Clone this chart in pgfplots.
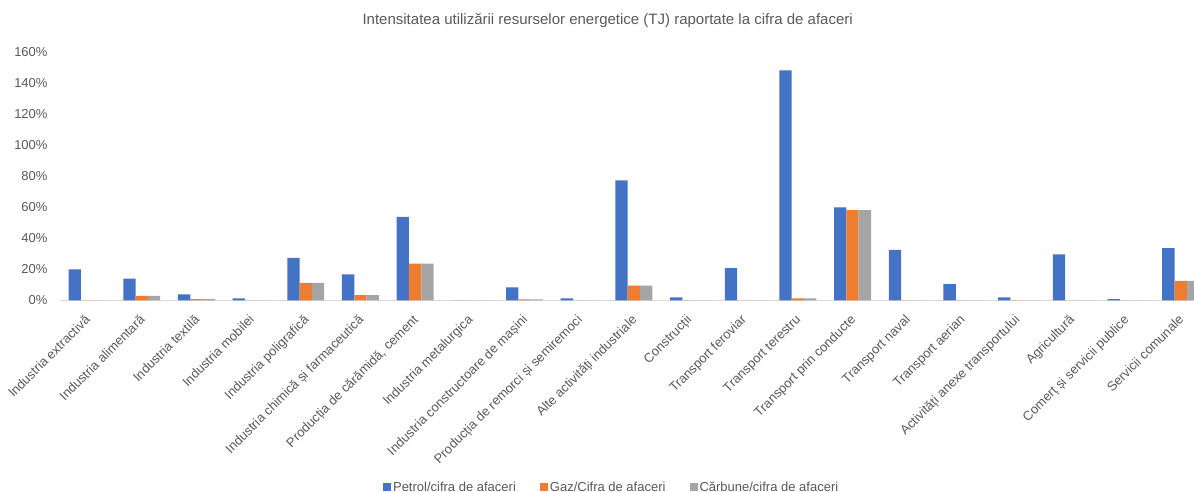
\documentclass[border=0pt]{standalone}
\usepackage{pgfplots}
\pgfplotsset{compat=1.18}
\usepackage{fontspec}
\setmainfont{Liberation Sans}
\definecolor{cblue}{HTML}{4472C4}
\definecolor{corange}{HTML}{ED7D31}
\definecolor{cgrey}{HTML}{A5A5A5}
\definecolor{ctext}{HTML}{595959}
\definecolor{cline}{HTML}{D9D9D9}
\begin{document}
\begin{tikzpicture}
\useasboundingbox (-59.7pt,-191.7pt) rectangle (1134.3pt,300.3pt);
\begin{axis}[
  at={(0,0)}, anchor=south west,
  scale only axis, width=1148.3pt, height=248pt,
  ybar=0pt, bar width=12.3pt,
  xmin=-0.5, xmax=20.5, ymin=0, ymax=160,
  axis x line*=bottom, axis y line=none,
  x axis line style={cline, line width=0.8pt},
  xtick={0,...,20}, major tick length=0pt,
  xticklabels={Industria extractivă, Industria alimentară, Industria textilă, Industria mobilei, Industria poligrafică, Industria chimică și farmaceutică, {Producția de cărămidă, cement}, Industria metalurgica, Industria constructoare de mașini, Producția de remorci și semiremoci, Alte activități industriale, Construcții, Transport feroviar, Transport terestru, Transport prin conducte, Transport naval, Transport aerian, Activități anexe transportului, Agricultură, Comerț și servicii publice, Servicii comunale},
  xticklabel style={xshift=-3pt, yshift=-12pt, rotate=45, anchor=north east, font=\fontsize{13}{15}\selectfont, text=ctext, inner sep=1pt},
  /pgf/number format/assume math mode=true,
  legend style={at={(0.4807,-0.754)}, anchor=center, draw=none, legend columns=3, font=\fontsize{13}{15}\selectfont, text=ctext, /tikz/every even column/.append style={column sep=22pt}},
  legend image code/.code={\fill[#1] (0pt,-4pt) rectangle (8pt,4pt);},
  clip=false,
]
\addplot[fill=cblue, draw=none] coordinates {(0,20) (1,14) (2,3.9) (3,1.3) (4,27.3) (5,16.8) (6,53.9) (7,0) (8,8.4) (9,1.3) (10,77.4) (11,1.9) (12,20.8) (13,148.4) (14,60) (15,32.5) (16,10.5) (17,1.9) (18,29.7) (19,0.8) (20,33.7)};
\addplot[fill=corange, draw=none] coordinates {(0,0) (1,2.8) (2,0.8) (3,0) (4,11.2) (5,3.4) (6,23.6) (7,0) (8,0.6) (9,0) (10,9.4) (11,0) (12,0) (13,1.3) (14,58.1) (15,0) (16,0) (17,0) (18,0) (19,0) (20,12.6)};
\addplot[fill=cgrey, draw=none] coordinates {(0,0) (1,2.8) (2,0.8) (3,0) (4,11.2) (5,3.4) (6,23.6) (7,0) (8,0.6) (9,0) (10,9.4) (11,0) (12,0) (13,1.3) (14,58.1) (15,0) (16,0) (17,0) (18,0) (19,0) (20,12.6)};
\legend{Petrol/cifra de afaceri, Gaz/Cifra de afaceri, Cărbune/cifra de afaceri}
\pgfplotsinvokeforeach{0,20,40,60,80,100,120,140,160}{
  \node[anchor=east, text=ctext, font=\fontsize{13}{15}\selectfont, inner sep=0pt, xshift=-12pt] at (axis cs:-0.5,#1) {#1\%};
}
\node[text=ctext, font=\fontsize{15}{17}\selectfont] at (axis description cs:0.4772,1.129) {Intensitatea utilizării resurselor energetice (TJ) raportate la cifra de afaceri};
\end{axis}
\end{tikzpicture}
\end{document}
